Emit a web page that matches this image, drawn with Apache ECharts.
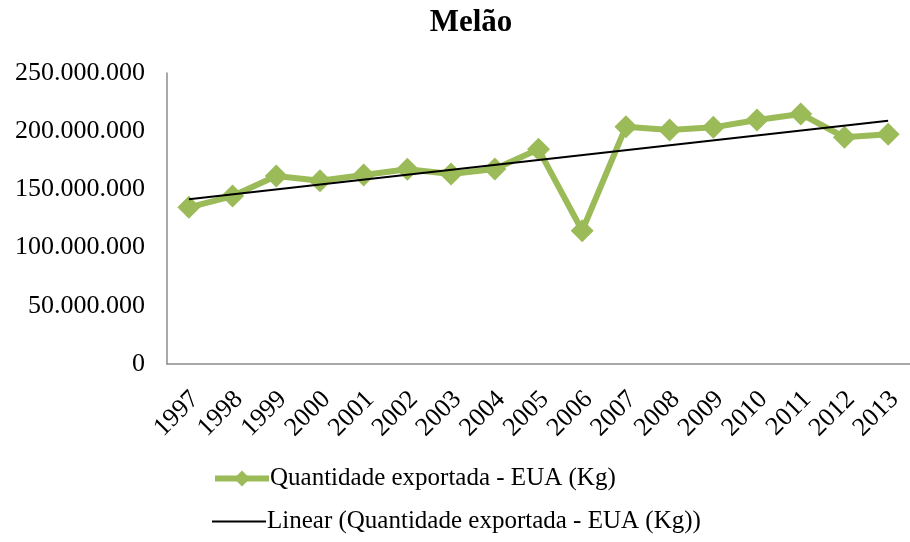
<!DOCTYPE html>
<html lang="pt">
<head>
	<meta charset="utf-8">
	<title>Melão</title>
	<style>
		html, body { margin: 0; padding: 0; background: #fff; }
		#container { width: 910px; height: 542px; }
	</style>
</head>
<body>
	<div id="container"></div>
	<script src="https://cdn.jsdelivr.net/npm/echarts@6/dist/echarts.min.js"></script>
	<script>
		// anos
		const years = ['1997','1998','1999','2000','2001','2002','2003','2004','2005',
			'2006','2007','2008','2009','2010','2011','2012','2013'];
		// quantidade exportada para os EUA (kg)
		const quantidade = [134600000, 144300000, 161500000, 157500000, 162400000, 167300000,
			163200000, 167500000, 184400000, 114500000, 203900000, 201000000, 203300000,
			209600000, 214800000, 194800000, 197300000];
		// linha de tendencia: valores no primeiro e no ultimo ano
		const tendencia = [141500000, 209000000];
		const yTicks = [0, 50000000, 100000000, 150000000, 200000000, 250000000];

		const serieNome = 'Quantidade exportada - EUA (Kg)';
		const tendNome = 'Linear (' + serieNome + ')';
		const fonte = 'Liberation Serif, Times New Roman, serif';

		// dados da tendencia: so as pontas, o resto fica vazio
		let tendData = years.map(function () { return null; });
		tendData[0] = tendencia[0];
		tendData[years.length - 1] = tendencia[1];

		function fmt(v) {
			return String(v).replace(/\B(?=(\d{3})+(?!\d))/g, '.');
		}

		let myChart = echarts.init(document.getElementById('container'), null, { renderer: 'canvas' });
		let option = {
			animation: false,
			backgroundColor: '#ffffff',
			title: {
				text: 'Melão',
				left: 466,
				top: 2,
				textAlign: 'center',
				textStyle: { fontFamily: fonte, fontSize: 31, fontWeight: 'bold', color: '#000' }
			},
			legend: [{
				left: 212,
				top: 466,
				padding: 0,
				itemWidth: 54,
				itemHeight: 20,
				lineStyle: { width: 6 },
				textStyle: { fontFamily: fonte, fontSize: 25, color: '#000', padding: [0, 0, 0, -4] },
				data: [serieNome]
			}, {
				left: 212,
				top: 509,
				padding: 0,
				itemWidth: 54,
				itemHeight: 2,
				textStyle: { fontFamily: fonte, fontSize: 25, color: '#000', padding: [0, 0, 0, -4] },
				data: [{ name: tendNome, icon: 'rect' }]
			}],
			grid: { left: 167, top: 73, width: 752, height: 291, containLabel: false },
			xAxis: {
				type: 'category',
				data: years,
				boundaryGap: true,
				axisLine: { lineStyle: { color: '#8c8c8c', width: 1.5 } },
				axisTick: { show: false },
				axisLabel: {
					rotate: 45,
					margin: 25,
					interval: 0,
					verticalAlign: 'top',
					lineHeight: 18,
					fontFamily: fonte,
					fontSize: 26,
					color: '#000'
				}
			},
			yAxis: {
				type: 'value',
				min: yTicks[0],
				max: yTicks[yTicks.length - 1],
				interval: 50000000,
				axisLine: { show: true, lineStyle: { color: '#8c8c8c', width: 1.5 } },
				axisTick: { show: false },
				splitLine: { show: false },
				axisLabel: {
					margin: 22,
					fontFamily: fonte,
					fontSize: 26,
					color: '#000',
					formatter: fmt
				}
			},
			series: [
				{
					name: serieNome,
					type: 'line',
					data: quantidade,
					symbol: 'diamond',
					symbolSize: 23,
					itemStyle: { color: '#9bbb59' },
					lineStyle: { color: '#9bbb59', width: 6 },
					z: 2
				},
				{
					name: tendNome,
					type: 'line',
					data: tendData,
					connectNulls: true,
					symbol: 'none',
					itemStyle: { color: '#000' },
					lineStyle: { color: '#000', width: 2 },
					z: 3
				}
			]
		};
		myChart.setOption(option);
	</script>
</body>
</html>
